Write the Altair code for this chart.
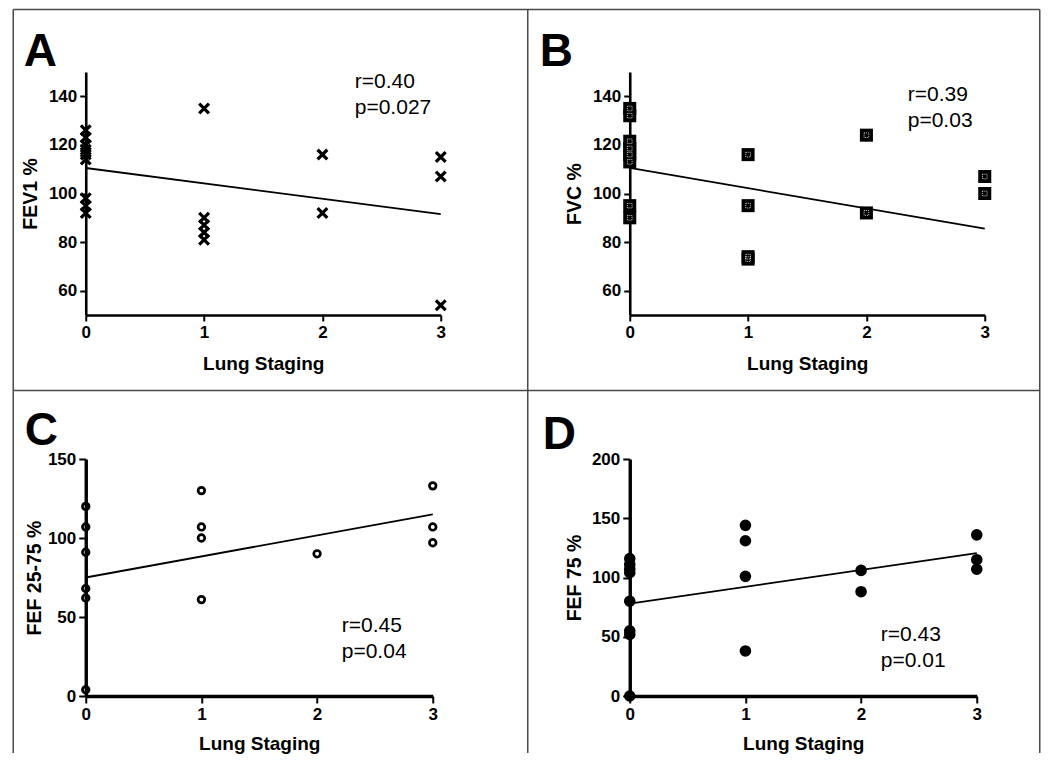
import altair as alt
import pandas as pd

# ---------------- data ----------------
stage_ticks = [0, 1, 2, 3]
fit_stage = [0, 3]

a_stage = [0, 0, 0, 0, 0, 0, 0, 0, 0, 1, 1, 1, 1, 1, 2, 2, 3, 3, 3]
a_fev1 = [126, 123, 120, 118, 116, 114, 98, 95, 92, 135, 90, 87, 84, 81, 116, 92, 115, 107, 54]
a_fit = [110.5, 91.5]

b_stage = [0, 0, 0, 0, 0, 0, 0, 0, 1, 1, 1, 1, 2, 2, 3, 3]
b_fvc = [135, 132, 121.5, 118.5, 116, 113, 95, 90, 116, 95, 74, 73, 124, 92, 107, 100]
b_fit = [110.5, 85.5]

c_stage = [0, 0, 0, 0, 0, 0, 1, 1, 1, 1, 2, 3, 3, 3]
c_fef2575 = [120, 107, 91, 68, 62, 4, 130, 107, 100, 61, 90, 133, 107, 97]
c_fit = [75, 115]

d_stage = [0, 0, 0, 0, 0, 0, 0, 0, 1, 1, 1, 1, 2, 2, 3, 3, 3]
d_fef75 = [116, 111, 107, 104, 80, 55, 52, 0, 144, 131, 101, 38, 106, 88, 136, 115, 107]
d_fit = [78, 120.5]

letters = ["A", "B", "C", "D"]
r_texts = ["r=0.40", "r=0.39", "r=0.45", "r=0.43"]
p_texts = ["p=0.027", "p=0.03", "p=0.04", "p=0.01"]
y_titles = ["FEV1 %", "FVC %", "FEF 25-75 %", "FEF 75 %"]
x_title = "Lung Staging"
y_domains = [[50, 150], [50, 150], [0, 150], [0, 200]]
y_ticks = [[60, 80, 100, 120, 140], [60, 80, 100, 120, 140], [0, 50, 100, 150], [0, 50, 100, 150, 200]]

# ---------------- styles ----------------
TICK_FONT = "Liberation Sans Narrow, Arial Narrow, Liberation Sans"
TITLE_FONT = "Liberation Sans"
BORDER = "#4a4a4a"


def make_panel(i, stages, values, fit, w, h, point_layers, dom_w, tick_size,
               ytitle_x, xtitle_y, letter_xy, stat_xy, borders=False):
    pts = pd.DataFrame({"stage": stages, "value": values})
    fit_df = pd.DataFrame({"stage": fit_stage, "value": fit})
    lab = pd.DataFrame({"letter": [letters[i]], "stat": [r_texts[i] + "\n" + p_texts[i]]})

    x_enc = alt.X(
        "stage:Q",
        scale=alt.Scale(domain=[0, 3], nice=False, zero=False),
        axis=alt.Axis(
            values=stage_ticks, format="d", grid=False, labelFlush=False,
            domainColor="black", domainWidth=dom_w, tickColor="black", tickWidth=2,
            tickSize=tick_size, labelFont=TICK_FONT, labelFontSize=17, labelFontWeight="bold",
            labelColor="black", labelPadding=3, title=x_title, titleFont=TITLE_FONT,
            titleFontSize=19, titleFontWeight="bold", titleColor="black",
            titleBaseline="alphabetic", titleY=xtitle_y,
        ),
    )
    y_enc = alt.Y(
        "value:Q",
        scale=alt.Scale(domain=y_domains[i], nice=False, zero=False),
        axis=alt.Axis(
            values=y_ticks[i], format="d", grid=False, labelFlush=False,
            domainColor="black", domainWidth=dom_w, tickColor="black", tickWidth=2,
            tickSize=tick_size, labelFont=TICK_FONT, labelFontSize=17, labelFontWeight="bold",
            labelColor="black", labelPadding=3, title=y_titles[i], titleFont=TITLE_FONT,
            titleFontSize=19.5, titleFontWeight="bold", titleColor="black",
            titleBaseline="alphabetic", titleX=ytitle_x,
        ),
    )

    layers = []
    if borders:
        bd = pd.DataFrame({"k": [0]})
        base_b = alt.Chart(bd).mark_rule(color=BORDER, strokeWidth=1.5)
        top, bottom, left, mid, right, divider = -62.5, 681, -72.5, 442, 954, 318.5
        layers += [
            base_b.encode(x=alt.value(left), x2=alt.value(right), y=alt.value(top)),
            base_b.encode(x=alt.value(left), x2=alt.value(right), y=alt.value(divider)),
            base_b.encode(x=alt.value(left), y=alt.value(top), y2=alt.value(bottom)),
            base_b.encode(x=alt.value(mid), y=alt.value(top), y2=alt.value(bottom)),
            base_b.encode(x=alt.value(right), y=alt.value(top), y2=alt.value(bottom)),
        ]

    layers.append(
        alt.Chart(fit_df).mark_line(color="black", strokeWidth=1.8).encode(x=x_enc, y=y_enc)
    )
    for mk in point_layers:
        layers.append(alt.Chart(pts).mark_point(**mk).encode(x=x_enc, y=y_enc))

    layers.append(
        alt.Chart(lab).mark_text(
            align="left", baseline="alphabetic", font=TITLE_FONT, fontSize=46,
            fontWeight="bold", color="black",
        ).encode(x=alt.value(letter_xy[0]), y=alt.value(letter_xy[1]), text="letter:N")
    )
    layers.append(
        alt.Chart(lab).mark_text(
            align="left", baseline="alphabetic", font=TITLE_FONT, fontSize=21,
            color="black", lineBreak="\n", lineHeight=26,
        ).encode(x=alt.value(stat_xy[0]), y=alt.value(stat_xy[1]), text="stat:N")
    )
    return alt.layer(*layers).properties(
        width=w, height=h, view=alt.ViewBackground(stroke="transparent", strokeWidth=0)
    )


cross = [dict(shape="M-1,-1L1,1M-1,1L1,-1", filled=False, stroke="black",
              strokeWidth=3.2, size=95, opacity=1)]
square = [dict(shape="square", filled=True, color="black", size=170, opacity=1),
          dict(shape="square", filled=False, stroke="white", strokeWidth=0.8,
               strokeDash=[1, 1], size=22, opacity=1)]
ring = [dict(shape="circle", filled=False, stroke="black", strokeWidth=2.7, size=44, opacity=1)]
dot = [dict(shape="circle", filled=True, color="black", size=135, opacity=1)]

pA = make_panel(0, a_stage, a_fev1, a_fit, 355, 243, cross, 2.6, 6,
                -49, 54, (-62, -6), (269, 16), borders=True)
pB = make_panel(1, b_stage, b_fvc, b_fit, 355, 243, square, 2.6, 6,
                -49, 54, (-90, -6), (278, 29))
pC = make_panel(2, c_stage, c_fef2575, c_fit, 347, 237, ring, 3.4, 7,
                -45, 53, (-61, -14), (256, 173))
pD = make_panel(3, d_stage, d_fef75, d_fit, 347, 237, dot, 3.4, 7,
                -49, 53, (-87, -10), (251, 182))

chart = alt.concat(
    pA, pB, pC, pD, columns=2, spacing={"row": 144, "column": 189}, bounds="flush"
).properties(
    padding={"left": 3.75, "top": 0, "right": 0, "bottom": 0},
    background="white",
).configure_view(stroke="transparent", strokeWidth=0)

chart.save("out.html", embed_options={"renderer": "svg", "actions": False})
